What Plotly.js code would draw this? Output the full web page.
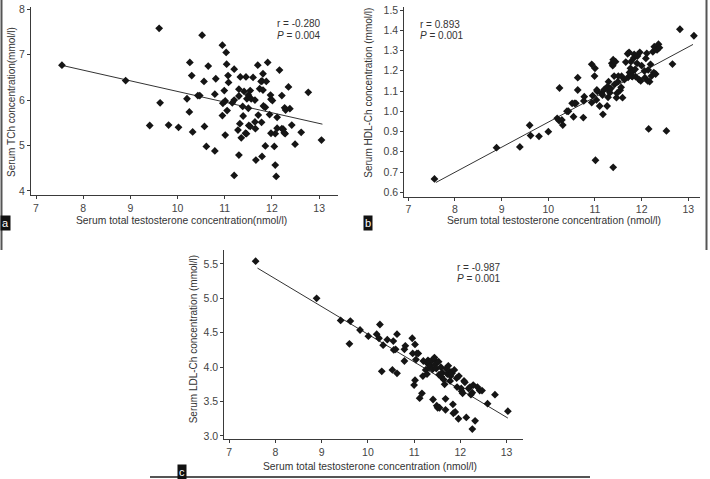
<!DOCTYPE html>
<html>
<head>
<meta charset="utf-8">
<script src="https://cdn.plot.ly/plotly-3.0.1.min.js"></script>
<style>html,body{margin:0;padding:0;background:#fff;}#chart{width:710px;height:479px;}</style>
</head>
<body>
<div id="chart"></div>
<script>
// Panel a: Serum TCh vs testosterone
const aX = [7.55,8.90,9.61,9.41,9.63,9.81,10.02,10.20,10.26,10.30,10.25,10.32,10.43,10.47,10.52,10.56,10.57,10.61,10.65,10.79,10.81,10.79,10.95,11.03,11.04,10.95,10.99,11.01,11.07,11.08,11.05,10.96,11.01,11.20,11.20,11.16,11.20,11.30,11.30,11.32,11.28,11.30,11.33,11.35,11.38,11.39,11.41,11.44,11.45,11.47,11.46,11.50,11.50,11.54,11.51,11.56,11.54,11.60,11.64,11.64,11.65,11.66,11.70,11.71,11.74,11.77,11.79,11.78,11.79,11.81,11.81,11.82,11.86,11.86,11.88,11.91,11.95,11.97,11.98,12.01,11.98,12.05,12.07,12.07,12.09,12.11,12.11,12.16,12.21,12.21,12.24,12.26,12.28,12.27,12.29,12.35,12.38,12.42,12.49,12.62,12.77,13.05];
const aY = [6.77,6.43,7.58,5.44,5.94,5.45,5.40,6.03,6.83,6.54,5.74,5.30,6.10,6.10,7.43,6.41,5.42,4.98,6.75,4.88,6.47,6.13,7.21,7.05,6.79,5.66,6.21,5.23,6.54,6.39,5.77,5.93,5.98,6.68,6.00,5.94,4.34,6.24,6.09,5.48,5.34,4.79,6.51,5.17,5.86,5.65,6.19,5.27,6.51,6.03,5.26,6.11,5.82,6.21,5.44,6.03,5.42,6.50,6.00,5.52,5.37,4.68,6.77,5.67,6.25,6.41,6.42,5.51,4.76,6.58,6.22,5.87,5.84,4.99,6.41,6.83,5.68,6.11,6.02,5.99,5.27,4.98,5.26,4.57,4.32,5.62,5.38,6.66,6.10,5.37,5.36,5.28,5.26,5.83,5.78,6.29,5.81,5.45,5.03,5.29,6.17,5.12];
const aFitX = [7.57, 13.07];
const aFitY = [6.76, 5.47];

// Panel b: Serum HDL-Ch vs testosterone
const bX = [7.56,8.89,9.39,9.60,9.62,9.80,10.00,10.19,10.23,10.24,10.29,10.31,10.40,10.43,10.51,10.54,10.56,10.59,10.63,10.63,10.75,10.77,10.76,10.93,10.93,10.95,10.99,11.00,11.01,11.03,11.04,11.05,11.10,11.14,11.16,11.17,11.20,11.26,11.27,11.29,11.28,11.30,11.32,11.34,11.36,11.38,11.39,11.39,11.41,11.42,11.44,11.46,11.47,11.49,11.50,11.54,11.56,11.59,11.57,11.63,11.66,11.70,11.71,11.73,11.74,11.76,11.77,11.79,11.80,11.81,11.83,11.84,11.86,11.87,11.90,11.91,11.94,11.96,11.98,12.00,12.15,12.06,12.07,12.09,12.11,12.13,12.14,12.17,12.19,12.21,12.24,12.26,12.27,12.30,12.33,12.36,12.38,12.53,12.66,12.82,13.12];
const bY = [0.666,0.820,0.824,0.931,0.880,0.876,0.899,0.965,0.954,1.115,0.957,0.932,1.000,1.000,1.039,0.973,1.039,1.039,1.166,1.105,0.969,1.072,1.051,1.232,1.043,1.077,1.174,1.212,0.758,1.056,1.105,1.098,1.026,1.089,1.080,0.985,1.108,1.026,1.122,1.146,1.069,1.102,1.092,1.113,1.237,1.225,1.255,0.723,1.174,1.133,1.245,1.067,1.089,1.146,1.174,1.104,1.118,1.067,1.173,1.156,1.243,1.284,1.168,1.291,1.192,1.212,1.245,1.174,1.171,1.196,1.263,1.281,1.207,1.171,1.237,1.273,1.158,1.291,1.150,1.225,0.913,1.199,1.166,1.261,1.286,1.150,1.204,1.146,1.232,1.174,1.294,1.191,1.319,1.184,1.303,1.331,1.314,0.903,1.233,1.405,1.373];
const bFitX = [7.59, 13.10];
const bFitY = [0.648, 1.330];

// Panel c: Serum LDL-Ch vs testosterone
const cX = [7.57,8.89,9.41,9.62,9.60,9.83,10.01,10.19,10.24,10.26,10.30,10.33,10.42,10.53,10.55,10.56,10.60,10.63,10.63,10.79,10.79,10.81,10.96,10.97,11.00,11.02,11.02,11.04,11.06,11.09,11.12,11.17,11.19,11.20,11.25,11.28,11.30,11.28,11.32,11.34,11.36,11.39,11.40,11.41,11.44,11.46,11.46,11.48,11.49,11.51,11.53,11.54,11.55,11.58,11.59,11.61,11.64,11.66,11.68,11.68,11.69,11.72,11.74,11.77,11.78,11.79,11.80,11.82,11.84,11.85,11.87,11.89,11.92,11.93,11.96,11.97,12.02,12.03,12.05,12.08,12.10,12.13,12.18,12.21,12.23,12.26,12.26,12.28,12.32,12.37,12.42,12.47,12.59,12.75,13.03];
const cY = [5.54,5.00,4.68,4.67,4.34,4.54,4.45,4.48,4.42,4.62,3.94,4.32,4.40,3.96,4.38,4.25,4.26,4.48,3.91,4.09,4.26,4.31,4.42,4.20,3.74,3.81,4.33,4.11,4.20,4.20,3.55,3.62,3.87,4.09,3.96,4.06,4.10,3.90,3.99,4.08,4.02,4.10,3.97,3.53,4.14,4.10,4.04,3.98,3.44,3.41,4.08,3.89,3.41,4.00,3.86,3.92,3.82,3.75,3.54,3.38,3.98,3.90,4.02,3.93,3.80,3.87,3.93,3.91,3.46,3.33,3.96,3.35,3.84,3.71,3.25,3.87,3.69,3.65,3.62,3.80,3.78,3.27,3.69,3.71,3.60,3.63,3.10,3.74,3.22,3.71,3.66,3.66,3.47,3.60,3.36];
const cFitX = [7.61, 13.03];
const cFitY = [5.44, 3.26];

const xTicks = [7, 8, 9, 10, 11, 12, 13];
const aTicks = [4, 5, 6, 7, 8];
const bTicks = [0.6, 0.7, 0.8, 0.9, 1.0, 1.1, 1.2, 1.3, 1.4, 1.5];
const cTicks = [3.0, 3.5, 4.0, 4.5, 5.0, 5.5];

const W = 710, H = 479;
const px = v => v / W;
const py = v => 1 - v / H;

const FONT = 'Liberation Sans, Arial, sans-serif';
const AX = '#3a3a3a';

function mk(x, y, xa, ya) {
  return {x, y, xaxis: xa, yaxis: ya, type: 'scatter', mode: 'markers',
    marker: {symbol: 'diamond', size: 6, color: '#151515'}, hoverinfo: 'skip', showlegend: false};
}
function fit(x, y, xa, ya) {
  return {x, y, xaxis: xa, yaxis: ya, type: 'scatter', mode: 'lines',
    line: {color: '#333', width: 1}, hoverinfo: 'skip', showlegend: false};
}

const data = [
  fit(aFitX, aFitY, 'x', 'y'), mk(aX, aY, 'x', 'y'),
  fit(bFitX, bFitY, 'x2', 'y2'), mk(bX, bY, 'x2', 'y2'),
  fit(cFitX, cFitY, 'x3', 'y3'), mk(cX, cY, 'x3', 'y3')
];

function axis(extra) {
  return Object.assign({
    showline: true, linecolor: AX, linewidth: 1, mirror: false,
    ticks: 'outside', ticklen: 3, tickwidth: 1, tickcolor: AX,
    showgrid: false, zeroline: false, tickmode: 'array',
    tickfont: {family: FONT, size: 10.5, color: '#444'}, fixedrange: true
  }, extra);
}

const layout = {
  width: W, height: H,
  margin: {l: 0, r: 0, t: 0, b: 0},
  paper_bgcolor: '#fff', plot_bgcolor: 'rgba(0,0,0,0)',
  showlegend: false,
  xaxis: axis({domain: [px(31), px(338)], range: [6.894, 13.40], tickvals: xTicks, anchor: 'y'}),
  yaxis: axis({domain: [py(195), py(7)], range: [3.91, 8.05], tickvals: aTicks, anchor: 'x'}),
  xaxis2: axis({domain: [px(404.3), px(700)], range: [6.914, 13.25], tickvals: xTicks, anchor: 'y2'}),
  yaxis2: axis({domain: [py(196.7), py(7)], range: [0.578, 1.515], tickvals: bTicks, tickformat: '.1f', anchor: 'x2'}),
  xaxis3: axis({domain: [px(224.3), px(523)], range: [6.892, 13.357], tickvals: xTicks, anchor: 'y3'}),
  yaxis3: axis({domain: [py(439), py(250)], range: [2.956, 5.703], tickvals: cTicks, tickformat: '.1f', anchor: 'x3'}),
  annotations: [],
  shapes: [
    {type: 'line', xref: 'paper', yref: 'paper', x0: px(1.5), x1: px(1.5), y0: py(0), y1: py(250), line: {color: '#555', width: 2}},
    {type: 'line', xref: 'paper', yref: 'paper', x0: px(706.5), x1: px(706.5), y0: py(0), y1: py(250), line: {color: '#555', width: 2}},
    {type: 'line', xref: 'paper', yref: 'paper', x0: px(150), x1: px(590), y0: py(477), y1: py(477), line: {color: '#555', width: 2}}
  ]
};

function ann(text, x, y, opts) {
  layout.annotations.push(Object.assign({
    text, xref: 'paper', yref: 'paper', x: px(x), y: py(y),
    xanchor: 'center', yanchor: 'middle', showarrow: false,
    font: {family: FONT, size: 10, color: '#333'}
  }, opts || {}));
}

// axis titles
ann('Serum total testosterone concentration(nmol/l)', 181, 220.7, {font: {family: FONT, size: 10.3, color: '#333'}});
ann('Serum total testosterone concentration (nmol/l)', 554, 220.7, {font: {family: FONT, size: 10.3, color: '#333'}});
ann('Serum total testosterone concentration (nmol/l)', 370, 466.7, {font: {family: FONT, size: 10.3, color: '#333'}});
ann('Serum TCh concentration(mmol/l)', 12, 102, {textangle: -90, font: {family: FONT, size: 10, color: '#333'}});
ann('Serum HDL-Ch concentration (mmol/l)', 367.7, 93, {textangle: -90, font: {family: FONT, size: 10, color: '#333'}});
ann('Serum LDL-Ch concentration (mmol/l)', 193.3, 339, {textangle: -90, font: {family: FONT, size: 10, color: '#333'}});

// statistics
ann('r = -0.280', 323, 23.3, {xanchor: 'right'});
ann('<i>P</i> = 0.004', 323, 35.7, {xanchor: 'right'});
ann('r = 0.893', 418, 24, {xanchor: 'left'});
ann('<i>P</i> = 0.001', 418, 35.7, {xanchor: 'left'});
ann('r = -0.987', 502.7, 267.3, {xanchor: 'right'});
ann('<i>P</i> = 0.001', 502.7, 278.5, {xanchor: 'right'});

// panel labels
const lbl = {bgcolor: '#111', borderpad: 1, font: {family: FONT, size: 11, color: '#fff'}};
ann('a', 6, 223, lbl);
ann('b', 368, 222.5, lbl);
ann('c', 181.5, 472, lbl);

Plotly.newPlot('chart', data, layout, {staticPlot: true, displayModeBar: false});
</script>
</body>
</html>
